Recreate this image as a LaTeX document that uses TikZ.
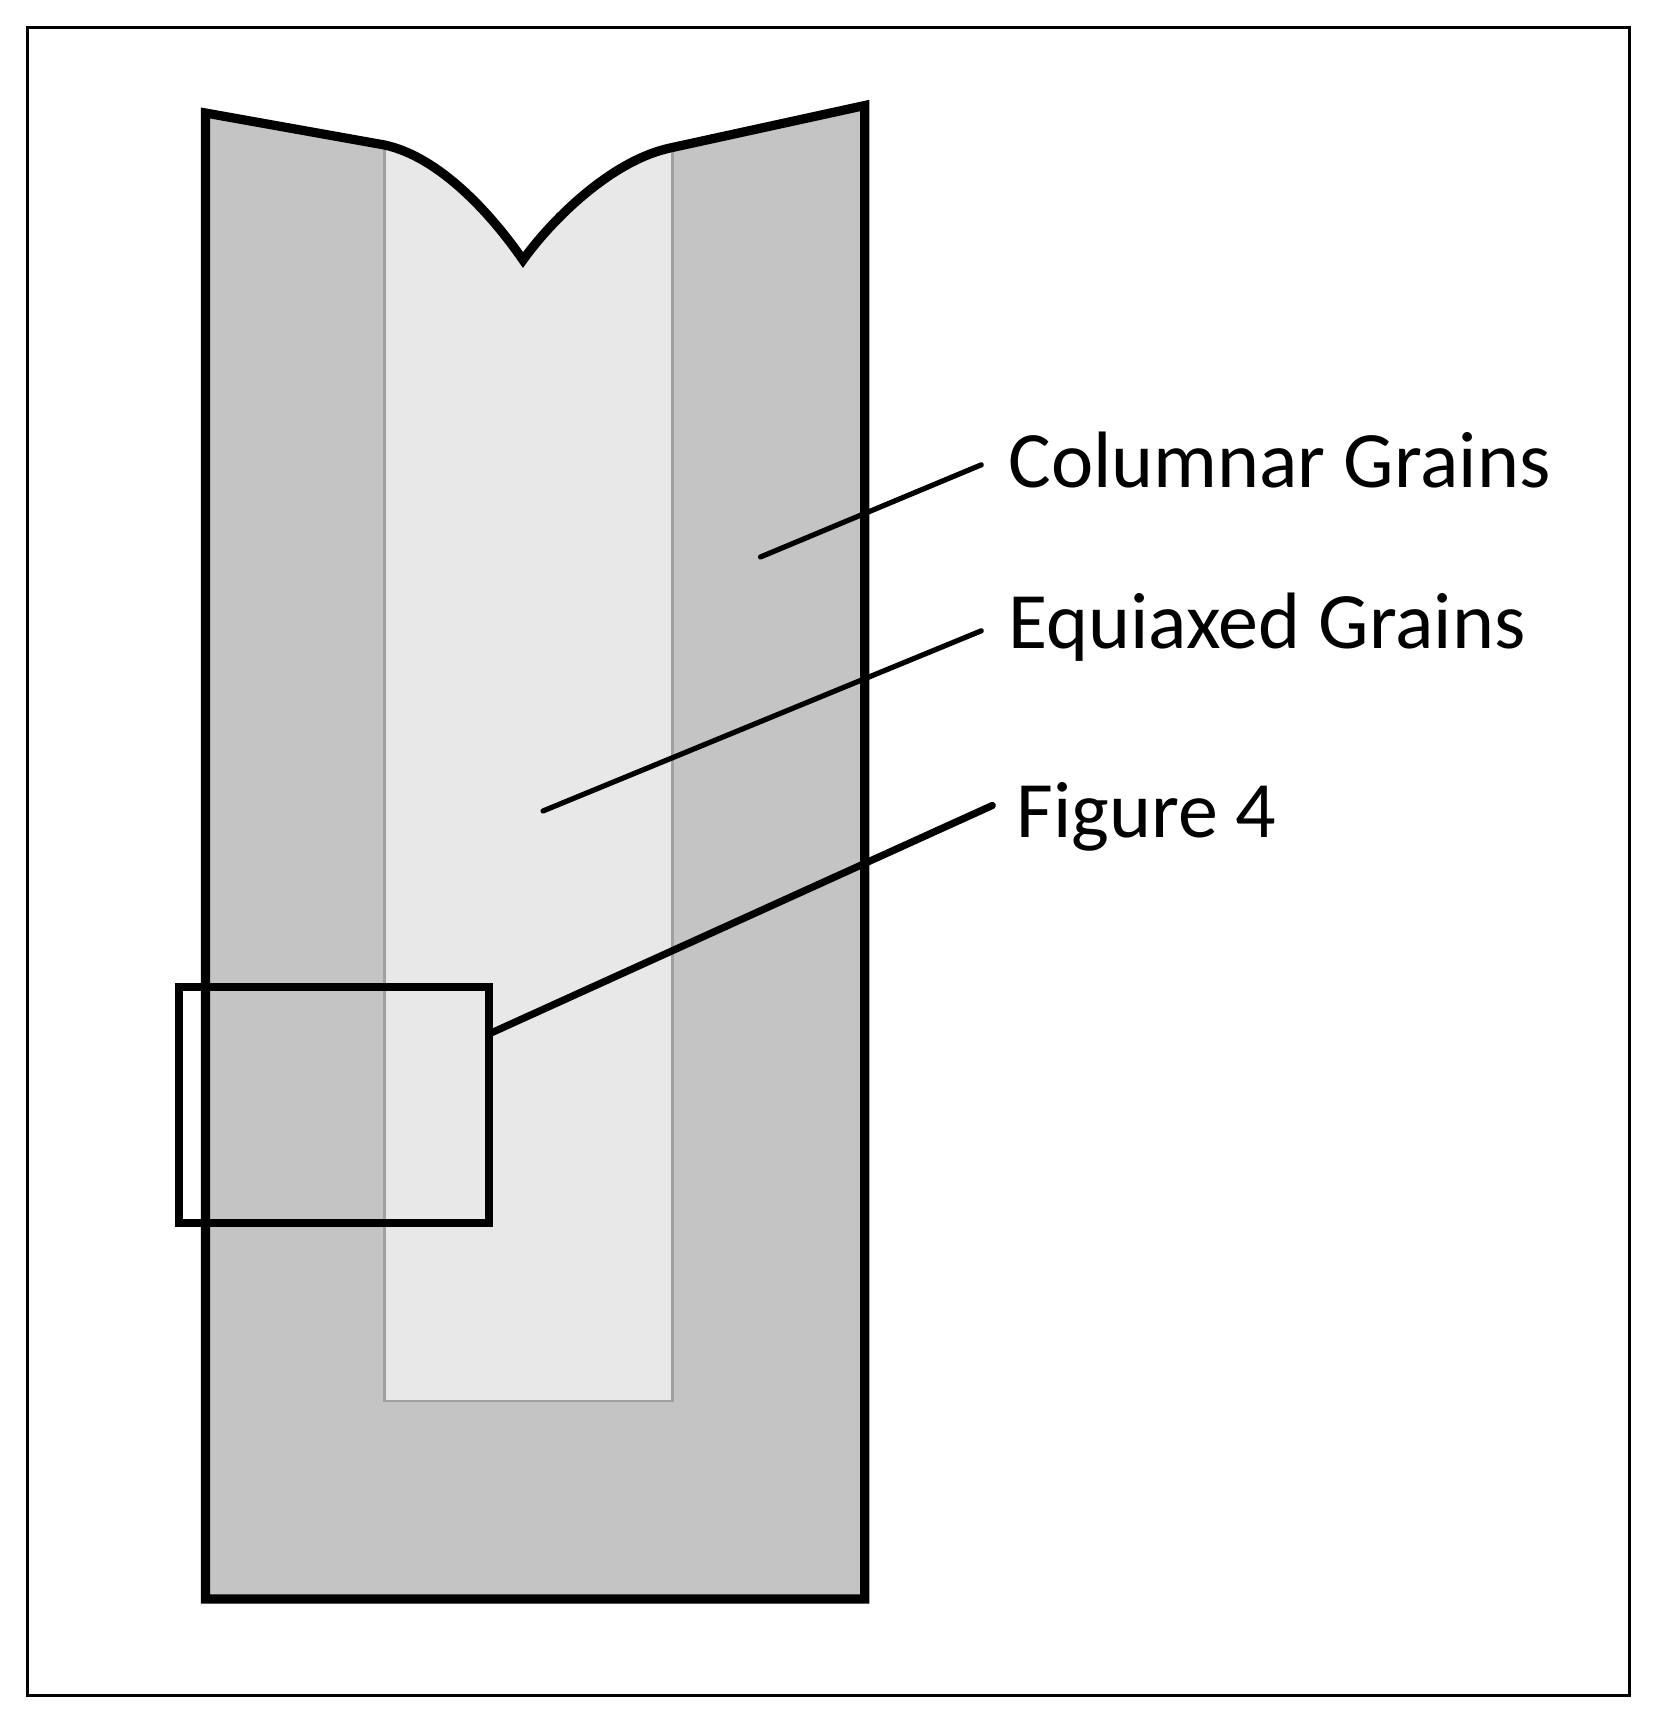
\documentclass[tikz,border=0pt]{standalone}
\usepackage{fontspec}
\setmainfont{Carlito}
\definecolor{darkgr}{HTML}{C4C4C4}
\definecolor{lightgr}{HTML}{E8E8E8}
\definecolor{edgegr}{HTML}{A0A0A0}
\begin{document}
\begin{tikzpicture}[x=0.5pt,y=-0.5pt,
  lbl/.style={anchor=base west,inner sep=0pt,font=\fontsize{40pt}{48pt}\selectfont},
  leader/.style={line width=2.6pt,line cap=round},
  ingotline/.style={line width=4.6pt,line join=miter}]
\fill[white] (0,0) rectangle (1656,1723);
\useasboundingbox (0,0) rectangle (1656,1723);
\draw[line width=1.8pt] (27.5,27.5) rectangle (1629.5,1695.5);
% ingot outline path
\def\ingotpath{(205.5,113) -- (384.6,145) .. controls (440,157) and (492,215) .. (523,260)
  .. controls (550,222) and (610,161) .. (670,148) -- (864.8,105.5) -- (864.8,1599) -- (205.5,1599) -- cycle}
\fill[darkgr] \ingotpath;
\begin{scope}
  \clip \ingotpath;
  \draw[fill=lightgr,draw=edgegr,line width=1.2pt] (384.6,0) rectangle (672.5,1401);
\end{scope}
\draw[ingotline] \ingotpath;
% labels
\node[lbl] (colL) at (1008,487) {Columnar Grains};
\node[lbl] (equL) at (1008,648) {Equiaxed Grains};
\node[lbl] (figL) at (1016,837) {Figure 4};
% box
\node (fig4box) [draw,line width=4pt,inner sep=0pt,minimum width=155pt,minimum height=118pt] at (334,1105) {};
% leaders
\coordinate (colA) at (760.4,557);
\coordinate (colB) at (981.3,464.8);
\coordinate (equA) at (542.9,811);
\coordinate (equB) at (981.3,630.8);
\coordinate (figA) at (491,1033);
\coordinate (figB) at (992.3,805.5);
\draw[leader] (colA) -- (colB);
\draw[leader] (equA) -- (equB);
\draw[leader,line width=3.6pt] (figA) -- (figB);
\end{tikzpicture}
\end{document}
